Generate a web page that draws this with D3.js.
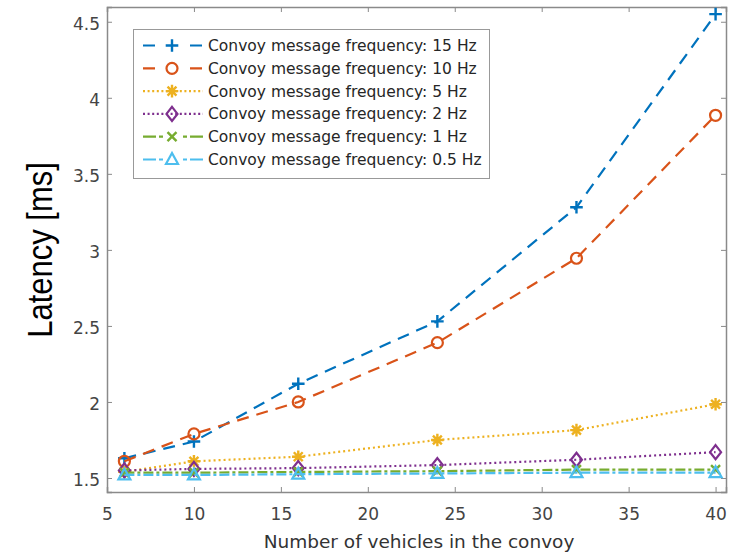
<!DOCTYPE html>
<html><head><meta charset="utf-8">
<script src="https://cdn.jsdelivr.net/npm/d3@7"></script>
<style>body{margin:0;background:#fff;} svg{display:block;font-family:"DejaVu Sans",sans-serif;}</style>
</head><body>
<svg id="c" width="732" height="555"></svg>
<script>
const vehicles = [6, 10, 16, 24, 32, 40];
const seriesNames = ["Convoy message frequency: 15 Hz","Convoy message frequency: 10 Hz","Convoy message frequency: 5 Hz","Convoy message frequency: 2 Hz","Convoy message frequency: 1 Hz","Convoy message frequency: 0.5 Hz"];
const hz15 = [1.63, 1.74, 2.12, 2.53, 3.28, 4.55];
const hz10 = [1.61, 1.79, 2.00, 2.39, 2.945, 3.885];
const hz5 = [1.54, 1.61, 1.64, 1.75, 1.815, 1.985];
const hz2 = [1.55, 1.56, 1.565, 1.585, 1.62, 1.67];
const hz1 = [1.535, 1.535, 1.54, 1.545, 1.555, 1.555];
const hz05 = [1.52, 1.52, 1.525, 1.53, 1.535, 1.535];
const xTicks = [5, 10, 15, 20, 25, 30, 35, 40];
const yTicks = [1.5, 2, 2.5, 3, 3.5, 4, 4.5];

const colors = ["#0072BD","#D95319","#EDB120","#7E2F8E","#77AC30","#4DBEEE"];
const dashes = ["12,8","12,8","2,3","2,3","10,3,3,3","10,3,3,3"];
const legendDashes = ["12,35,12","12,35,12","2,2.6","2,2.6","13,3,4,20,4,3,13","13,3,4,20,4,3,13"];
const markers = ["plus","circle","star","diamond","cross","triangle"];
const data = [hz15, hz10, hz5, hz2, hz1, hz05];

const svg = d3.select("#c");
const L = 107, R = 726, T = 7, B = 492;
const x = d3.scaleLinear().domain([5, 40.6]).range([L, R]);
const y = d3.scaleLinear().domain([1.408, 4.597]).range([B, T]);
const axisColor = "#8a8a8a", textColor = "#444";

// axes
const gx = svg.append("g").attr("transform",`translate(0,${B})`).call(d3.axisBottom(x).tickValues(xTicks).tickSize(-5).tickFormat(d3.format("d")));
const gxt = svg.append("g").attr("transform",`translate(0,${T})`).call(d3.axisTop(x).tickValues(xTicks).tickSize(-5).tickFormat(""));
const gy = svg.append("g").attr("transform",`translate(${L},0)`).call(d3.axisLeft(y).tickValues(yTicks).tickSize(-5).tickPadding(7).tickFormat(d => String(d)));
const gyr = svg.append("g").attr("transform",`translate(${R},0)`).call(d3.axisRight(y).tickValues(yTicks).tickSize(-5).tickFormat(""));
[gx,gxt,gy,gyr].forEach(g => {
  g.select(".domain").attr("stroke", axisColor).attr("stroke-width",1.5);
  g.selectAll(".tick line").attr("stroke", axisColor).attr("stroke-width",1);
  g.selectAll(".tick text").attr("fill", textColor).style("font-size","17px").style("font-family","'DejaVu Sans',sans-serif");
});
gx.selectAll(".tick text").attr("y", 28).attr("dy", 0);
gy.selectAll(".tick text").attr("dy", "0.45em");

svg.append("text").attr("x",419).attr("y",548).attr("text-anchor","middle").attr("fill","#333").style("font-size","18.5px").text("Number of vehicles in the convoy");
svg.append("text").attr("transform","translate(52,250) scale(1.15,1) rotate(-90)").attr("text-anchor","middle").attr("fill","#000").style("font-family","'Liberation Sans',Arial,sans-serif").style("font-size","31px").text("Latency [ms]");

function drawMarker(g, type, cx, cy, color) {
  const s = 6.3;
  if (type === "plus") {
    g.append("path").attr("d",`M${cx-s},${cy}H${cx+s}M${cx},${cy-s}V${cy+s}`).attr("stroke",color).attr("stroke-width",2.4).attr("fill","none");
  } else if (type === "circle") {
    g.append("circle").attr("cx",cx).attr("cy",cy).attr("r",5.5).attr("stroke",color).attr("stroke-width",2.2).attr("fill","none");
  } else if (type === "star") {
    let d = "";
    for (let a = 0; a < 4; a++) { const an = a*Math.PI/4; d += `M${cx-s*Math.cos(an)},${cy-s*Math.sin(an)}L${cx+s*Math.cos(an)},${cy+s*Math.sin(an)}`; }
    g.append("path").attr("d",d).attr("stroke",color).attr("stroke-width",2.4).attr("fill","none");
  } else if (type === "diamond") {
    g.append("path").attr("d",`M${cx},${cy-7}L${cx+5.5},${cy}L${cx},${cy+7}L${cx-5.5},${cy}Z`).attr("stroke",color).attr("stroke-width",2.2).attr("fill","none");
  } else if (type === "cross") {
    const c = 4.5;
    g.append("path").attr("d",`M${cx-c},${cy-c}L${cx+c},${cy+c}M${cx-c},${cy+c}L${cx+c},${cy-c}`).attr("stroke",color).attr("stroke-width",2.4).attr("fill","none");
  } else if (type === "triangle") {
    g.append("path").attr("d",`M${cx},${cy-6.5}L${cx+6},${cy+4.5}L${cx-6},${cy+4.5}Z`).attr("stroke",color).attr("stroke-width",2.2).attr("fill","none");
  }
}

const line = d3.line().x((d,i) => x(vehicles[i])).y(d => y(d));
const plot = svg.append("g");
data.forEach((vals, k) => {
  plot.append("path").datum(vals).attr("d", line).attr("fill","none").attr("stroke",colors[k]).attr("stroke-width",2.2).attr("stroke-dasharray",dashes[k]);
  vals.forEach((v,i) => drawMarker(plot, markers[k], x(vehicles[i]), y(v), colors[k]));
});

// legend
const lg = svg.append("g");
lg.append("rect").attr("x",133.5).attr("y",29.5).attr("width",356).attr("height",149).attr("fill","#fff").attr("stroke","#999").attr("stroke-width",1);
seriesNames.forEach((name,k) => {
  const ry = 45.5 + k*22.8;
  lg.append("line").attr("x1",143).attr("x2",203).attr("y1",ry).attr("y2",ry).attr("stroke",colors[k]).attr("stroke-width",2.2).attr("stroke-dasharray", legendDashes[k]);
  drawMarker(lg, markers[k], 172, ry, colors[k]);
  lg.append("text").attr("x",208).attr("y",ry+5.5).attr("fill","#262626").style("font-size","15.5px").text(name);
});
</script>
</body></html>
